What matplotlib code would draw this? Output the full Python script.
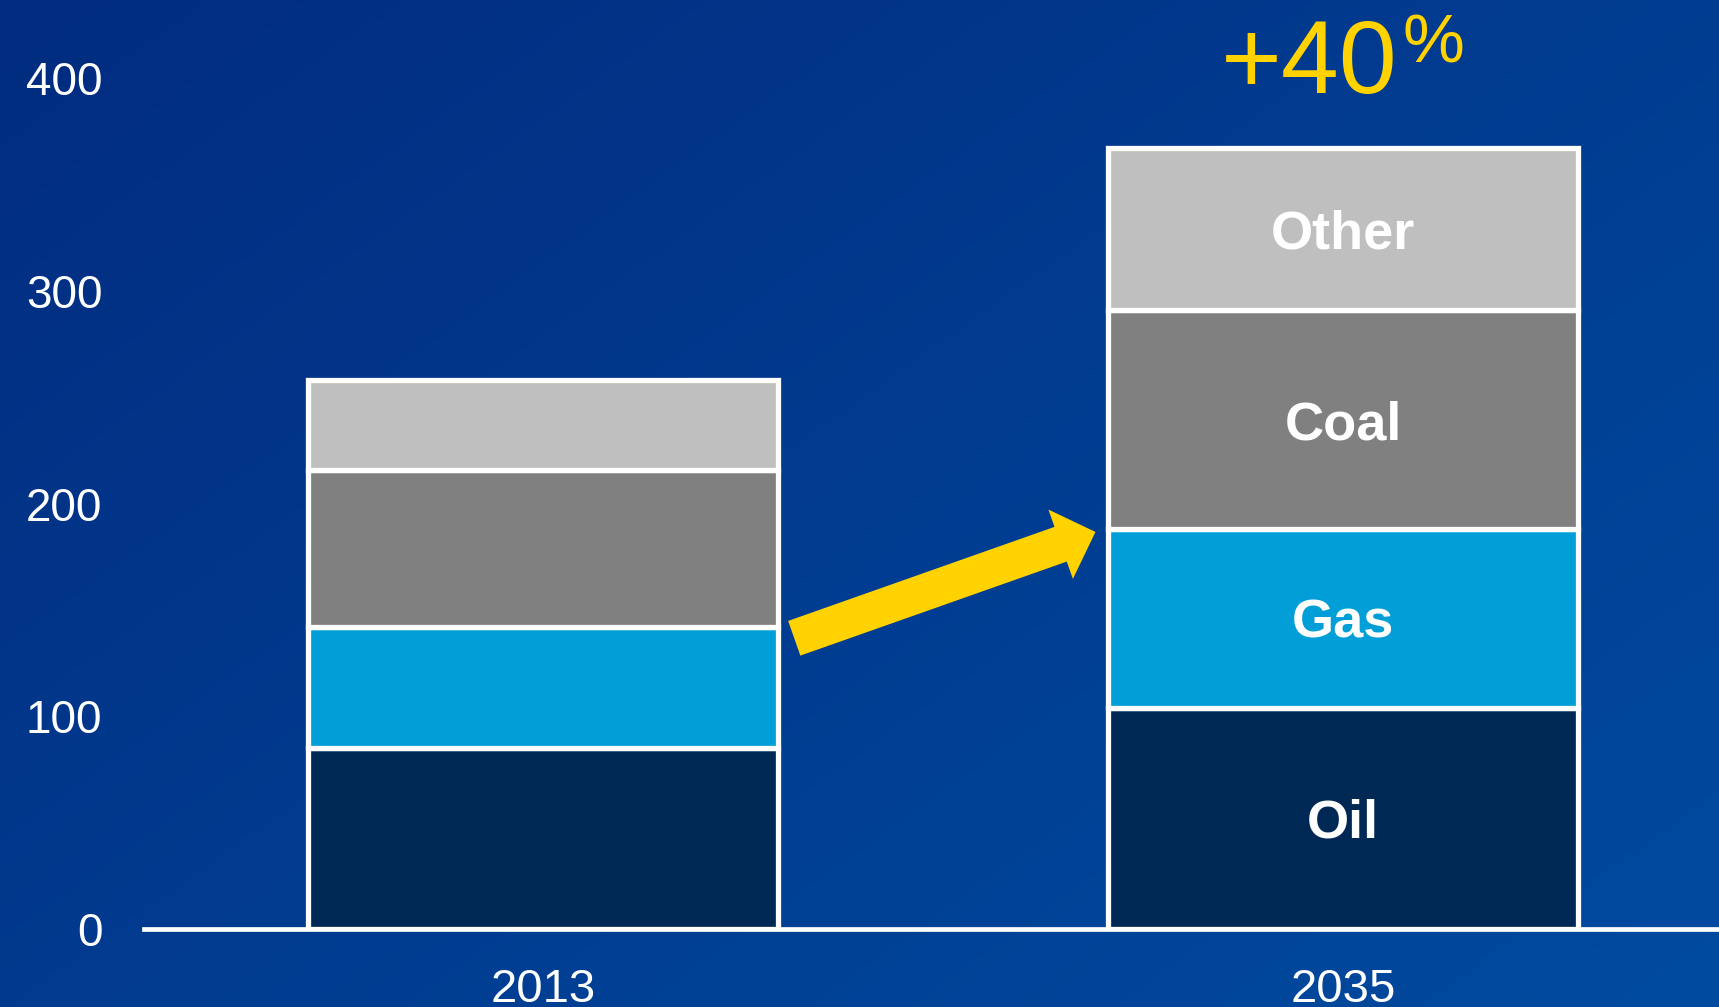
import numpy as np
import matplotlib
matplotlib.use("Agg")
import matplotlib.pyplot as plt
from matplotlib.patches import FancyArrowPatch

plt.rcParams['font.family'] = ['Liberation Sans', 'DejaVu Sans']

years = ["2013", "2035"]
fuels = ["Oil", "Gas", "Coal", "Other"]
oil = [85, 104]
gas = [57, 84]
coal = [74, 103]
other = [42, 76]
growth_label = "+40"
yticks = [0, 100, 200, 300, 400]

colors = ["#002855", "#029ED8", "#808080", "#BFBFBF"]
yellow = "#FFD200"

fig = plt.figure(figsize=(17.19, 10.07), dpi=100)

# diagonal blue gradient behind everything
bg = fig.add_axes([0, 0, 1, 1], zorder=-1)
gx, gy = np.meshgrid(np.linspace(0, 1, 400), np.linspace(0, 1, 240))
t = (gx * 0.55 + gy * 0.45)[..., None]
c0 = np.array([2, 44, 128]) / 255
c1 = np.array([0, 75, 160]) / 255
bg.imshow(c0 + (c1 - c0) * t, aspect="auto", extent=[0, 1, 1, 0])
bg.axis("off")

ax = fig.add_axes([0.08377, 0.07746, 0.91623, 0.84479])
ax.patch.set_alpha(0)

x = np.arange(len(years))
w = 0.5875
lab_size = 39
bottom = np.zeros(len(years))
for vals, col, name in zip([oil, gas, coal, other], colors, fuels):
    ax.bar(x, vals, w, bottom=bottom, color=col, edgecolor="white",
           linewidth=3.8, zorder=3)
    # labels only on the 2035 column, caps centred in the segment
    ax.annotate(name, xy=(x[1], bottom[1] + vals[1] / 2),
                xytext=(0, -0.358 * lab_size), textcoords="offset points",
                ha="center", va="baseline", color="white",
                fontsize=lab_size, fontweight="bold", zorder=4)
    bottom = bottom + np.array(vals)

totals = bottom

ax.set_xlim(-0.499, 1.4696)
ax.set_ylim(0, 400)
ax.set_yticks(yticks)
ax.set_yticklabels([str(v) for v in yticks])
ax.set_xticks(x)
ax.set_xticklabels(years)
ax.tick_params(axis="y", length=0, pad=30, labelsize=33, labelcolor="white")
ax.tick_params(axis="x", length=0, pad=52.8, labelsize=34, labelcolor="white")
for lab in ax.get_xticklabels():
    lab.set_verticalalignment("baseline")

for s in ["top", "right", "left"]:
    ax.spines[s].set_visible(False)
ax.spines["bottom"].set_color("white")
ax.spines["bottom"].set_linewidth(3.4)

# yellow growth arrow between the columns
gas_top = np.array(oil) + np.array(gas)
arrow = FancyArrowPatch(
    (x[0] + w / 2 + 0.02, gas_top[0] - 5.3),
    (x[1] - w / 2 - 0.016, gas_top[1] - 1.3),
    arrowstyle="simple,head_length=26.6,head_width=53,tail_width=26.5",
    mutation_scale=1, shrinkA=0, shrinkB=0, color=yellow, lw=0, zorder=5)
ax.add_patch(arrow)

ax.annotate(growth_label, xy=(x[1], totals[1]), xytext=(38.9, 40.3),
            textcoords="offset points", ha="right", va="baseline",
            fontsize=75, color=yellow, annotation_clip=False)
ax.annotate("%", xy=(x[1], totals[1]), xytext=(42.8, 61.9),
            textcoords="offset points", ha="left", va="baseline",
            fontsize=50, color=yellow, annotation_clip=False)

fig.savefig("out.png", dpi=100)
